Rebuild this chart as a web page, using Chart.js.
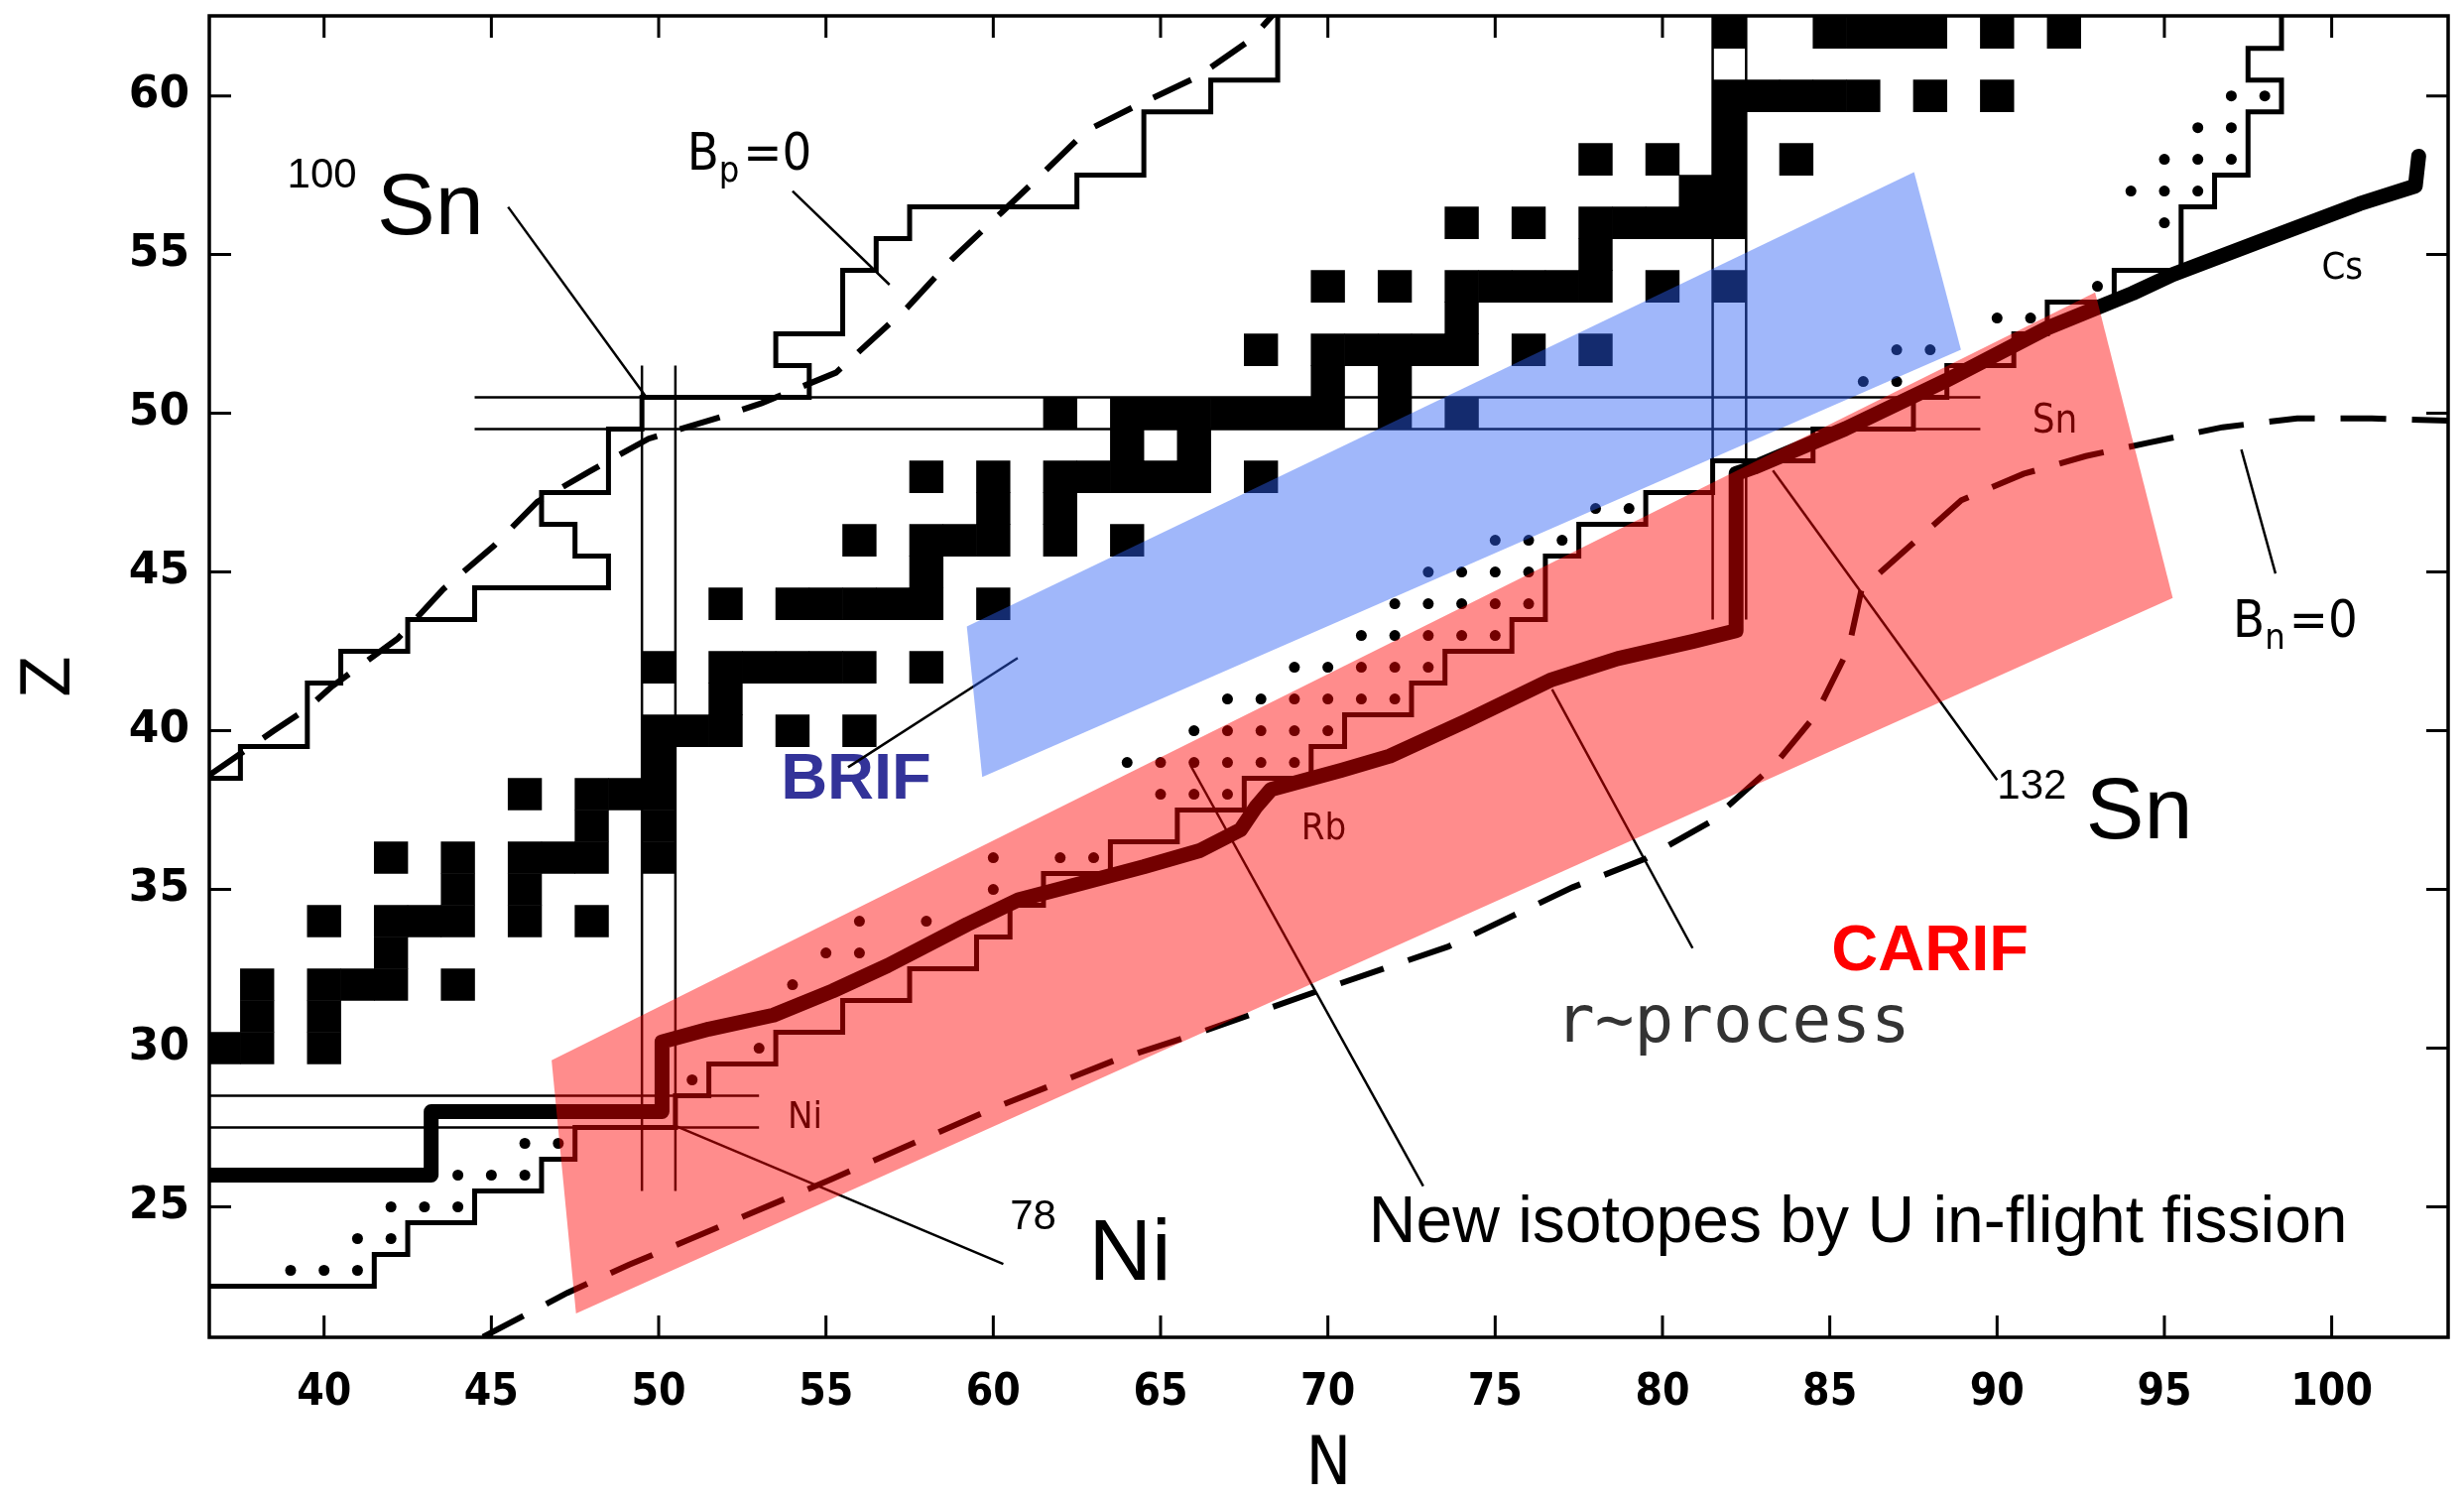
<!DOCTYPE html>
<html><head><meta charset="utf-8">
<script src="https://cdn.jsdelivr.net/npm/chart.js@4.4.1/dist/chart.umd.min.js"></script>
<style>html,body{margin:0;padding:0;background:#fff;overflow:hidden}canvas{display:block}</style>
</head><body>
<canvas id="c" width="2484" height="1512"></canvas>
<script>
// ---------- axis ticks ----------
const xTickValues = [40,45,50,55,60,65,70,75,80,85,90,95,100];
const xTickLabels = ['40','45','50','55','60','65','70','75','80','85','90','95','100'];
const yTickValues = [25,30,35,40,45,50,55,60];
const yTickLabels = ['25','30','35','40','45','50','55','60'];

// ---------- stable nuclides (Z rows, N lists) ----------
const stableZ = [30,31,32,33,34,35,36,37,38,39,40,41,42,44,45,46,47,48,49,50,51,52,53,54,55,56,57,58,59,60,62];
const stableN = [
 [37,38,40],[38,40],[38,40,41,42,44],[42],[40,42,43,44,46,48],[44,46],[42,44,46,47,48,50],[48,50],
 [46,48,49,50],[50],[50,51,52,54,56],[52],[50,52,53,54,55,56,58],[52,54,55,56,57,58,60],[58],
 [56,58,59,60,62,64],[60,62],[58,60,62,63,64,65,66,68],[64,66],[62,64,65,66,67,68,69,70,72,74],
 [70,72],[68,70,71,72,73,74,76,78],[74],[70,72,74,75,76,77,78,80,82],[78],[74,76,78,79,80,81,82],
 [81,82],[78,80,82,84],[82],[82,83,84,85,86,88,90],[82,85,86,87,88,90,92]
];

// ---------- dotted cells (Z rows, N lists) ----------
const dotZ = [23,24,25,26,27,29,30,32,33,34,35,36,38,39,40,41,42,43,44,45,46,47,51,52,53,54,56,57,58,59,60];
const dotN = [
 [39,40,41],[41,42],[42,43,44],[44,45,46],[46,47],[51],[53],[54],[55,56],[56,58],[60],[60,62,63],
 [65,66,67],[64,65,66,67,68,69],[66,67,68,69,70],[67,68,69,70,71,72],[69,70,71,72,73],[71,72,73,74,75],
 [72,73,74,75,76],[73,74,75,76],[75,76,77],[78,79],[86,87],[87,88],[90,91],[93],[95],[94,95,96],
 [95,96,97],[96,97],[97,98]
];

// ---------- boundary lines [N, Z] ----------
const protonLimit = [[36.57,38.5],[37.5,38.5],[37.5,39.5],[39.5,39.5],[39.5,41.5],[40.5,41.5],[40.5,42.5],[42.5,42.5],[42.5,43.5],[44.5,43.5],[44.5,44.5],[48.5,44.5],[48.5,45.5],[47.5,45.5],[47.5,46.5],[46.5,46.5],[46.5,47.5],[48.5,47.5],[48.5,49.5],[49.5,49.5],[49.5,50.5],[54.5,50.5],[54.5,51.5],[53.5,51.5],[53.5,52.5],[55.5,52.5],[55.5,54.5],[56.5,54.5],[56.5,55.5],[57.5,55.5],[57.5,56.5],[62.5,56.5],[62.5,57.5],[64.5,57.5],[64.5,59.5],[66.5,59.5],[66.5,60.5],[68.5,60.5],[68.5,62.6]];
const neutronLimit = [[36.57,22.5],[41.5,22.5],[41.5,23.5],[42.5,23.5],[42.5,24.5],[44.5,24.5],[44.5,25.5],[46.5,25.5],[46.5,26.5],[47.5,26.5],[47.5,27.5],[50.5,27.5],[50.5,28.5],[51.5,28.5],[51.5,29.5],[53.5,29.5],[53.5,30.5],[55.5,30.5],[55.5,31.5],[57.5,31.5],[57.5,32.5],[59.5,32.5],[59.5,33.5],[60.5,33.5],[60.5,34.5],[61.5,34.5],[61.5,35.5],[63.5,35.5],[63.5,36.5],[65.5,36.5],[65.5,37.5],[67.5,37.5],[67.5,38.5],[69.5,38.5],[69.5,39.5],[70.5,39.5],[70.5,40.5],[72.5,40.5],[72.5,41.5],[73.5,41.5],[73.5,42.5],[75.5,42.5],[75.5,43.5],[76.5,43.5],[76.5,45.5],[77.5,45.5],[77.5,46.5],[79.5,46.5],[79.5,47.5],[81.5,47.5],[81.5,48.5],[84.5,48.5],[84.5,49.5],[87.5,49.5],[87.5,50.5],[88.5,50.5],[88.5,51.5],[90.5,51.5],[90.5,52.5],[91.5,52.5],[91.5,53.5],[93.5,53.5],[93.5,54.5],[95.5,54.5],[95.5,56.5],[96.5,56.5],[96.5,57.5],[97.5,57.5],[97.5,59.5],[98.5,59.5],[98.5,60.5],[97.5,60.5],[97.5,61.5],[98.5,61.5],[98.5,62.6]];
const bpZero = [[36.57,38.6],[38.5,40.0],[39.5,40.7],[40.24,41.4],[42.2,42.9],[43.56,44.46],[45.09,45.84],[46.37,47.21],[47.9,48.15],[49.7,49.2],[51.9,49.9],[53.08,50.32],[55.3,51.28],[57.42,53.32],[58.78,54.87],[60.23,56.31],[61.42,57.5],[62.78,58.9],[64.37,59.74],[66.07,60.58],[67.68,61.76],[68.4,62.6]];
const bnZero = [[44.75,20.9],[47.27,22.29],[49.12,23.18],[50.8,23.92],[55.14,25.86],[59.9,28.06],[63.64,29.62],[65.9,30.39],[69.57,31.75],[73.6,33.2],[77.3,35.06],[79.49,35.97],[81.43,37.13],[83.37,38.95],[84.58,40.5],[85.56,42.58],[85.95,44.46],[87.44,45.86],[88.93,47.26],[90.79,48.09],[92.65,48.65],[94.51,49.07],[96.74,49.56],[98.97,49.84],[101.2,49.84],[103.5,49.77]];
const rProcessPath = [[36.57,26.0],[43.2,26.0],[43.2,28.0],[50.1,28.0],[50.1,30.2],[51.5,30.6],[53.43,31.04],[55.2,31.8],[56.84,32.6],[59.22,33.9],[60.75,34.67],[62.62,35.19],[64.49,35.71],[66.19,36.23],[67.39,36.88],[67.85,37.6],[68.3,38.15],[70.4,38.75],[71.85,39.2],[74.12,40.3],[76.69,41.61],[78.66,42.27],[80.93,42.82],[82.2,43.15],[82.2,48.1],[82.74,48.3],[85.46,49.51],[88.49,51.04],[91.51,52.69],[94.05,53.78],[95.25,54.37],[98.04,55.49],[100.83,56.6],[102.5,57.16],[102.6,58.1]];

// magic-number double lines
const magicLines = [
 [[44.5,50.5],[89.5,50.5]], [[44.5,49.5],[89.5,49.5]],
 [[36.57,28.5],[53.0,28.5]], [[36.57,27.5],[53.0,27.5]],
 [[49.5,25.5],[49.5,51.5]], [[50.5,25.5],[50.5,51.5]],
 [[81.5,43.5],[81.5,62.6]], [[82.5,43.5],[82.5,62.6]]
];
// leader lines
const leaders = [
 [[45.5,56.5],[49.6,50.55]],   // 100Sn
 [[54.0,57.0],[56.9,54.05]],   // Bp=0
 [[50.5,27.55],[60.3,23.2]],   // 78Ni
 [[83.3,48.2],[90.0,38.45]],   // 132Sn
 [[76.7,41.3],[80.9,33.15]],   // r-process
 [[97.3,48.86],[98.32,44.95]], // Bn=0
 [[55.66,38.85],[60.73,42.29]],// BRIF
 [[65.9,38.9],[72.85,25.65]]   // new isotopes
];
// facility bands
const brifBand = [[59.21,43.28],[87.52,57.6],[88.92,52.0],[59.67,38.54],[59.21,43.28]];
const carifBand = [[46.8,29.62],[92.93,53.81],[95.25,44.18],[47.53,21.64],[46.8,29.62]];

const xMin = 36.57, xMax = 103.48, yMin = 20.89, yMax = 62.52;

// ---------- build datasets ----------
const pts = a => a.map(p => ({x:p[0], y:p[1]}));
const cells = [];
stableZ.forEach((z,i) => stableN[i].forEach(n => cells.push({x:n, y:[z-0.5, z+0.5]})));
const dots = [];
dotZ.forEach((z,i) => dotN[i].forEach(n => dots.push({x:n, y:z})));

function lineDS(arr, o){
  return Object.assign({type:'scatter', data:pts(arr), showLine:true, pointRadius:0, borderColor:'#000',
    borderWidth:5, fill:false, order:2, borderJoinStyle:'miter', borderCapStyle:'butt'}, o||{});
}
const datasets = [];
datasets.push({type:'bar', label:'stable', data:cells, backgroundColor:'#000', borderWidth:0,
  barPercentage:1, categoryPercentage:1, grouped:false, order:4});
magicLines.forEach(l => datasets.push(lineDS(l,{borderWidth:2.5, order:3})));
datasets.push(lineDS(protonLimit,{borderWidth:5}));
datasets.push(lineDS(neutronLimit,{borderWidth:5}));
datasets.push(lineDS(bpZero,{borderWidth:6, borderDash:[42,24]}));
datasets.push(lineDS(bnZero,{borderWidth:6, borderDash:[46,26]}));
datasets.push(lineDS(rProcessPath,{borderWidth:15, borderJoinStyle:'round', borderCapStyle:'round'}));
leaders.forEach(l => datasets.push(lineDS(l,{borderWidth:2.5})));
datasets.push({type:'scatter', label:'dots', data:dots, pointRadius:5.5, pointStyle:'circle',
  backgroundColor:'#000', borderWidth:0, showLine:false, order:2});
datasets.push(lineDS(carifBand,{borderWidth:0, borderColor:'rgba(0,0,0,0)', fill:'shape', backgroundColor:'rgba(255,0,0,0.45)', order:1}));
datasets.push(lineDS(brifBand,{borderWidth:0, borderColor:'rgba(0,0,0,0)', fill:'shape', backgroundColor:'rgba(45,95,245,0.45)', order:1}));

// ---------- text & frame plugin ----------
const SANS = '"Liberation Sans", Arial, sans-serif';
const COND = '"DejaVu Sans Condensed", "DejaVu Sans", sans-serif';
const MONO = '"DejaVu Sans Mono", monospace';
function P(chart,n,z){ return {x:chart.scales.x.getPixelForValue(n), y:chart.scales.y.getPixelForValue(z)}; }
function runs(ctx, chart, n, z, list){
  let p = P(chart,n,z), x = p.x;
  ctx.textAlign = 'left'; ctx.textBaseline = 'alphabetic';
  list.forEach(r => { ctx.font = r.f; ctx.fillStyle = r.c || '#000'; ctx.fillText(r.t, x, p.y + (r.dy||0)); x += ctx.measureText(r.t).width + (r.g||0); });
}
const figurePlugin = {
  id:'figure',
  beforeDatasetsDraw(chart){
    const ctx = chart.ctx; ctx.save();
    runs(ctx,chart,38.9,57.1,[{t:'100',f:'42px '+SANS}]);
    runs(ctx,chart,41.58,55.65,[{t:'Sn',f:'88px '+SANS}]);
    runs(ctx,chart,90.0,37.85,[{t:'132',f:'42px '+SANS}]);
    runs(ctx,chart,92.65,36.6,[{t:'Sn',f:'88px '+SANS}]);
    runs(ctx,chart,60.5,24.3,[{t:'78',f:'42px '+SANS}]);
    runs(ctx,chart,62.85,22.7,[{t:'Ni',f:'88px '+SANS}]);
    runs(ctx,chart,50.85,57.68,[{t:'B',f:'52px '+COND},{t:'p',f:'36px '+COND,dy:12,g:4},{t:'=0',f:'52px '+COND}]);
    runs(ctx,chart,97.05,42.95,[{t:'B',f:'52px '+COND},{t:'n',f:'36px '+COND,dy:12,g:4},{t:'=0',f:'52px '+COND}]);
    runs(ctx,chart,99.7,54.25,[{t:'Cs',f:'38px '+COND}]);
    runs(ctx,chart,91.05,49.4,[{t:'Sn',f:'40px '+COND}]);
    runs(ctx,chart,53.85,27.5,[{t:'Ni',f:'38px '+COND}]);
    runs(ctx,chart,69.2,36.57,[{t:'Rb',f:'38px '+COND}]);
    runs(ctx,chart,76.8,30.2,[{t:'r~process',f:'66px '+MONO,c:'#333'}]);
    runs(ctx,chart,53.65,37.85,[{t:'BRIF',f:'bold 65px '+SANS,c:'#333399'}]);
    runs(ctx,chart,85.05,32.45,[{t:'CARIF',f:'bold 65px '+SANS,c:'#ff0000'}]);
    runs(ctx,chart,71.22,23.9,[{t:'New isotopes by U in-flight fission',f:'66px '+SANS}]);
    ctx.restore();
  },
  afterDatasetsDraw(chart){
    const ctx = chart.ctx, a = chart.chartArea, sx = chart.scales.x, sy = chart.scales.y;
    ctx.save();
    ctx.strokeStyle = '#000'; ctx.lineWidth = 3;
    const T = 22;
    ctx.beginPath();
    xTickValues.forEach(v => { const x = sx.getPixelForValue(v); ctx.moveTo(x,a.bottom); ctx.lineTo(x,a.bottom-T); ctx.moveTo(x,a.top); ctx.lineTo(x,a.top+T); });
    yTickValues.forEach(v => { const y = sy.getPixelForValue(v); ctx.moveTo(a.left,y); ctx.lineTo(a.left+T,y); ctx.moveTo(a.right,y); ctx.lineTo(a.right-T,y); });
    ctx.stroke();
    ctx.lineWidth = 3.5;
    ctx.strokeRect(a.left, a.top, a.right-a.left, a.bottom-a.top);
    ctx.restore();
  }
};

function zeroPad(s){ s.paddingLeft = 0; s.paddingRight = 0; s.paddingTop = 0; s.paddingBottom = 0; }

new Chart(document.getElementById('c'), {
  type:'scatter',
  data:{datasets},
  options:{
    responsive:false, animation:false, devicePixelRatio:1,
    layout:{padding:{top:16,right:16,left:0,bottom:0}, autoPadding:false},
    plugins:{legend:{display:false}, tooltip:{enabled:false}},
    scales:{
      x:{type:'linear', min:xMin, max:xMax, offset:false, bounds:'data',
        afterBuildTicks: s => { s.ticks = xTickValues.map(v => ({value:v})); },
        afterFit: s => { s.height = 164; zeroPad(s); },
        grid:{display:false, drawTicks:false, offset:false}, border:{display:false},
        ticks:{autoSkip:false, maxRotation:0, padding:30, color:'#000',
          font:{family:COND, size:44, weight:'bold'},
          callback:(v,i) => xTickLabels[i]},
        title:{display:true, text:'N', color:'#000', font:{family:COND, size:68, lineHeight:1}, padding:{top:0,bottom:0}}
      },
      y:{type:'linear', min:yMin, max:yMax, offset:false, bounds:'data',
        afterBuildTicks: s => { s.ticks = yTickValues.map(v => ({value:v})); },
        afterFit: s => { s.width = 211; zeroPad(s); },
        grid:{display:false, drawTicks:false}, border:{display:false},
        ticks:{autoSkip:false, padding:20, color:'#000',
          font:{family:'"DejaVu Sans", sans-serif', size:44, weight:'bold'},
          callback:(v,i) => yTickLabels[i]},
        title:{display:true, text:'Z', color:'#000', font:{family:COND, size:68, lineHeight:1}, padding:{top:18,bottom:0}}
      }
    }
  },
  plugins:[figurePlugin]
});
</script>
</body></html>
